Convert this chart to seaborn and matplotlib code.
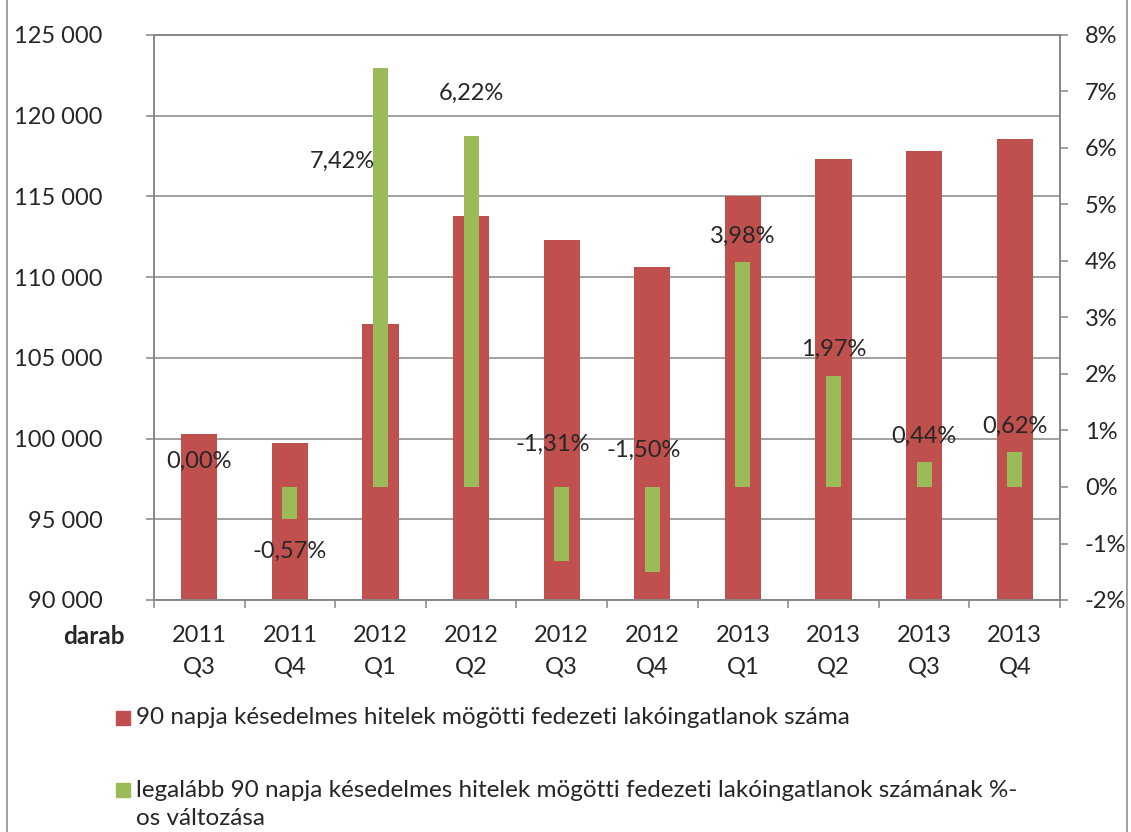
import matplotlib
matplotlib.use("Agg")
import matplotlib.pyplot as plt
from matplotlib.ticker import FuncFormatter, MultipleLocator, FixedLocator
from matplotlib.patches import Rectangle
from matplotlib.lines import Line2D
import seaborn as sns
import pandas as pd

# ---------- data ----------
quarters = ["2011\nQ3", "2011\nQ4", "2012\nQ1", "2012\nQ2", "2012\nQ3",
            "2012\nQ4", "2013\nQ1", "2013\nQ2", "2013\nQ3", "2013\nQ4"]
counts = [100300, 99700, 107100, 113800, 112300, 110600, 115050, 117300, 117800, 118550]
pct_change = [0.00, -0.57, 7.42, 6.22, -1.31, -1.50, 3.98, 1.97, 0.44, 0.62]

legend_red = "90 napja késedelmes hitelek mögötti fedezeti lakóingatlanok száma"
legend_green = "legalább 90 napja késedelmes hitelek mögötti fedezeti lakóingatlanok számának %-\nos változása"

# label placement (layout only): y on the % axis, x shift in category units
label_y = [0.46, -1.13, 5.77, 6.96, 0.76, 0.65, 4.44, 2.44, 0.90, 1.08]
label_dx = [0, 0, -0.42, 0, -0.1, -0.09, 0, 0, 0, 0]

RED = "#C0504D"
GREEN = "#9BBB59"
GRID = "#868686"

sns.set_style("white")
plt.rcParams["font.family"] = ["Lato", "DejaVu Sans"]

df = pd.DataFrame({"q": quarters, "count": counts, "pct": pct_change})

W, H = 1131, 832
fig = plt.figure(figsize=(W / 100, H / 100), dpi=100)
ax = fig.add_axes([154 / W, 1 - 600 / H, (1060 - 154) / W, (600 - 35) / H])

sns.barplot(data=df, x="q", y="count", ax=ax, color=RED, width=0.4,
            saturation=1, edgecolor="none")
ax.set_ylim(90000, 125000)
ax.set_xlim(-0.5, 9.5)
ax.yaxis.set_major_locator(MultipleLocator(5000))
ax.yaxis.set_major_formatter(FuncFormatter(lambda v, p: f"{int(v):,}".replace(",", " ")))
ax.grid(axis="y", color=GRID, linewidth=1.1)
ax.set_axisbelow(True)
ax.set_xlabel("")
ax.set_ylabel("")
for s in ax.spines.values():
    s.set_color(GRID)
    s.set_linewidth(1.1)
ax.tick_params(axis="y", length=6, width=1.1, color=GRID, pad=31, labelsize=17, left=True)
ax.xaxis.set_minor_locator(FixedLocator([i - 0.5 for i in range(11)]))
ax.tick_params(axis="x", which="major", length=0, pad=18, labelsize=17)
ax.tick_params(axis="x", which="minor", length=6, width=1.1, color=GRID, bottom=True)
for t in ax.get_xticklabels():
    t.set_linespacing(1.6)

ax2 = ax.twinx()
sns.barplot(data=df, x="q", y="pct", ax=ax2, color=GREEN, width=0.165,
            saturation=1, edgecolor="none")
ax2.set_ylim(-2, 8)
ax2.set_xlim(-0.5, 9.5)
ax2.set_ylabel("")
ax2.set_xlabel("")
ax2.yaxis.set_major_locator(MultipleLocator(1))
ax2.yaxis.set_major_formatter(FuncFormatter(lambda v, p: f"{v:.0f}%"))
ax2.tick_params(axis="y", length=6, width=1.1, color=GRID, pad=12, labelsize=17, right=True)
for s in ax2.spines.values():
    s.set_color(GRID)
    s.set_linewidth(1.1)
ax2.grid(False)

for i, v in enumerate(pct_change):
    ax2.text(i + label_dx[i], label_y[i], f"{v:.2f}%".replace(".", ","),
             ha="center", va="center", fontsize=17)

fig.text(125 / W, 1 - 637 / H, "darab", ha="right", va="center",
         fontsize=17.5, fontweight="bold")

# legend
fig.patches.append(Rectangle((116 / W, 1 - 725 / H), 14 / W, 14 / H,
                             transform=fig.transFigure, color=RED))
fig.text(136 / W, 1 - 718 / H, legend_red, ha="left", va="center", fontsize=17.5)
fig.patches.append(Rectangle((116 / W, 1 - 797 / H), 14 / W, 14 / H,
                             transform=fig.transFigure, color=GREEN))
fig.text(136 / W, 1 - 780 / H, legend_green, ha="left", va="top", fontsize=17.5,
         linespacing=1.4)

# chart area border
for xb in (7, 1127):
    fig.add_artist(Line2D([xb / W, xb / W], [0, 1], transform=fig.transFigure,
                          color=GRID, linewidth=1.1))

fig.savefig("out.png", dpi=100)
